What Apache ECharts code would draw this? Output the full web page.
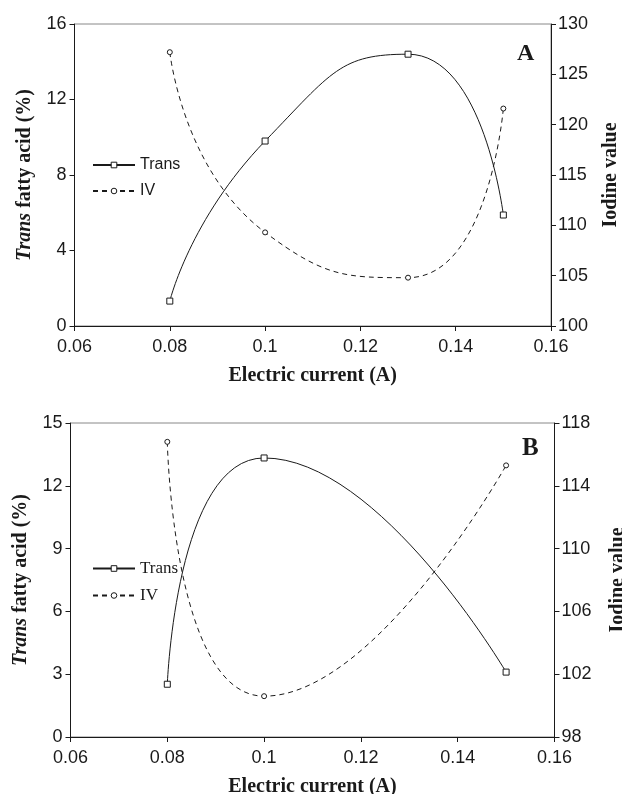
<!DOCTYPE html>
<html lang="en">
<head>
    <meta charset="UTF-8">
    <title>Trans fatty acid / Iodine value</title>
    <script src="https://cdn.jsdelivr.net/npm/echarts@6/dist/echarts.min.js"></script>
    <style>
        html, body { margin: 0; padding: 0; background: #fff; }
    </style>
</head>
<body>
<div id="main" style="width: 622px;height: 794px;"></div>
<script>
    // 面板A数据
    let currentA = [0.08, 0.1, 0.13, 0.15];
    let transA = [1.32, 9.8, 14.4, 5.88];
    let ivA = [127.2, 109.3, 104.8, 121.6];
    // 面板B数据
    let currentB = [0.08, 0.1, 0.15];
    let transB = [2.52, 13.33, 3.1];
    let ivB = [116.8, 100.6, 115.3];
    // 右轴B刻度
    let ivTicksB = [98, 102, 106, 110, 114, 118];

    let sans = 'Liberation Sans, Arial, sans-serif';
    let serif = 'Liberation Serif, Times New Roman, serif';
    let ink = '#1a1a1a';
    let smoothness = 0.6;

    function pairs(xs, ys) {
        return xs.map((x, i) => [x, ys[i]]);
    }

    function xAxisOf(idx) {
        return {
            type: 'value', gridIndex: idx, min: 0.06, max: 0.16, interval: 0.02,
            name: 'Electric current (A)', nameLocation: 'middle', nameGap: 40,
            nameTextStyle: { fontFamily: serif, fontWeight: 'bold', fontSize: 20, color: ink },
            axisLine: { lineStyle: { color: ink, width: 1 } },
            axisTick: { show: true, length: 5, lineStyle: { color: ink } },
            axisLabel: { fontFamily: sans, fontSize: 18, color: ink, margin: 12 },
            splitLine: { show: false }
        };
    }

    function leftAxis(idx, max, interval) {
        return {
            type: 'value', gridIndex: idx, position: 'left', min: 0, max: max, interval: interval,
            name: '{i|Trans} fatty acid (%)', nameLocation: 'middle', nameRotate: 90, nameGap: 40,
            nameTextStyle: {
                fontFamily: serif, fontWeight: 'bold', fontSize: 20, color: ink,
                rich: { i: { fontFamily: serif, fontWeight: 'bold', fontStyle: 'italic', fontSize: 20, color: ink } }
            },
            axisLine: { show: true, lineStyle: { color: ink, width: 1 } },
            axisTick: { show: true, length: 5, lineStyle: { color: ink } },
            axisLabel: { fontFamily: sans, fontSize: 18, color: ink, margin: 8 },
            splitLine: { show: false }
        };
    }

    function rightAxis(idx, min, max, interval, gap) {
        return {
            type: 'value', gridIndex: idx, position: 'right', min: min, max: max, interval: interval,
            name: 'Iodine value', nameLocation: 'middle', nameRotate: 90, nameGap: gap,
            nameTextStyle: { fontFamily: serif, fontWeight: 'bold', fontSize: 20, color: ink },
            axisLine: { show: true, lineStyle: { color: ink, width: 1 } },
            axisTick: { show: true, length: 5, lineStyle: { color: ink } },
            axisLabel: { fontFamily: sans, fontSize: 18, color: ink, margin: 7 },
            splitLine: { show: false }
        };
    }

    function transSeries(idx, yIdx, xs, ys) {
        return {
            name: 'Trans', type: 'line', xAxisIndex: idx, yAxisIndex: yIdx,
            data: pairs(xs, ys), smooth: smoothness,
            symbol: 'rect', symbolSize: 6,
            lineStyle: { color: ink, width: 1 },
            itemStyle: { color: '#fff', borderColor: ink, borderWidth: 1 },
            z: 3
        };
    }

    function ivSeries(idx, yIdx, xs, ys) {
        return {
            name: 'IV', type: 'line', xAxisIndex: idx, yAxisIndex: yIdx,
            data: pairs(xs, ys), smooth: smoothness,
            symbol: 'circle', symbolSize: 5,
            lineStyle: { color: ink, width: 1, type: [5, 4] },
            itemStyle: { color: '#fff', borderColor: ink, borderWidth: 1 },
            z: 3
        };
    }

    let myChart = echarts.init(document.getElementById('main'));

    // 98起步不是4的倍数，用customValues给刻度
    let rightB = rightAxis(1, 98, 118, 4, 53);
    delete rightB.interval;
    rightB.axisLabel.customValues = ivTicksB;
    rightB.axisTick.customValues = ivTicksB;

    let legendIcon = { color: '#fff', borderColor: ink, borderWidth: 1 };

    let option = {
        backgroundColor: '#fff',
        animation: false,
        grid: [
            { left: 74.5, right: 71, top: 24, height: 302, show: true, borderColor: '#888', borderWidth: 1, outerBoundsMode: 'none' },
            { left: 70.5, right: 67.5, top: 423, height: 314, show: true, borderColor: '#888', borderWidth: 1, outerBoundsMode: 'none' }
        ],
        xAxis: [xAxisOf(0), xAxisOf(1)],
        yAxis: [
            leftAxis(0, 16, 4),
            rightAxis(0, 100, 130, 5, 50),
            leftAxis(1, 15, 3),
            rightB
        ],
        legend: [
            {
                // A面板图例，无衬线字体
                data: ['Trans', 'IV'], orient: 'vertical', left: 87, top: 152,
                itemWidth: 42, itemHeight: 7, itemGap: 10,
                itemStyle: legendIcon,
                textStyle: { fontFamily: sans, fontSize: 16, color: ink }
            },
            {
                data: ['Trans', 'IV'], orient: 'vertical', left: 87, top: 555,
                itemWidth: 42, itemHeight: 7, itemGap: 10,
                itemStyle: legendIcon,
                textStyle: { fontFamily: serif, fontSize: 17, color: ink }
            }
        ],
        graphic: [
            { type: 'text', left: 517, top: 42, style: { text: 'A', font: 'bold 24px ' + serif, fill: ink } },
            { type: 'text', left: 522, top: 436, style: { text: 'B', font: 'bold 25px ' + serif, fill: ink } }
        ],
        series: [
            transSeries(0, 0, currentA, transA),
            ivSeries(0, 1, currentA, ivA),
            transSeries(1, 2, currentB, transB),
            ivSeries(1, 3, currentB, ivB)
        ]
    };

    myChart.setOption(option);
</script>
</body>
</html>
